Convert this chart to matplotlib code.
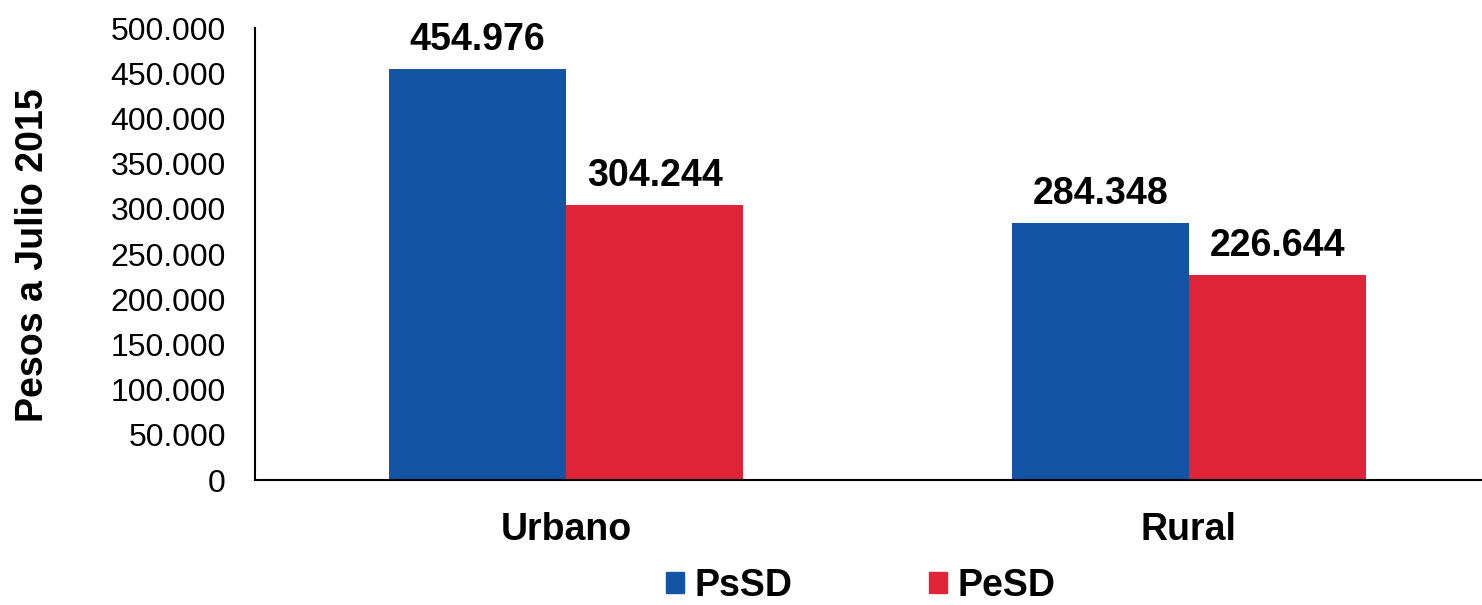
import numpy as np
import matplotlib.pyplot as plt
from matplotlib.patches import Patch
from matplotlib.ticker import FuncFormatter

# datos
zonas = ["Urbano", "Rural"]
psd = [454976, 284348]
pesd = [304244, 226644]
series = ["PsSD", "PeSD"]
colores = ["#1454A4", "#E02437"]

plt.rcParams['font.family'] = ['Liberation Sans', 'DejaVu Sans']

fig = plt.figure(figsize=(14.82, 6.05), dpi=100)
ax = fig.add_axes([255 / 1482, 1 - 480 / 605, 1245 / 1482, 452 / 605])

x = np.arange(len(zonas))
w = 0.2846
b1 = ax.bar(x - w / 2, psd, w, color=colores[0])
b2 = ax.bar(x + w / 2, pesd, w, color=colores[1])


def miles(v, pos=None):
    return f"{int(round(v)):,}".replace(",", ".")


for barras, vals in [(b1, psd), (b2, pesd)]:
    for r, v in zip(barras, vals):
        ax.annotate(miles(v), (r.get_x() + r.get_width() / 2, v),
                    xytext=(0, 8), textcoords="offset points",
                    ha="center", va="bottom", fontsize=27, fontweight="bold")

ax.set_xlim(-0.5, 1.5)
ax.set_ylim(0, 500000)
ax.set_yticks(np.arange(0, 500001, 50000))
ax.yaxis.set_major_formatter(FuncFormatter(miles))
ax.set_xticks(x)
ax.set_xticklabels(zonas, fontsize=27, fontweight="bold")
ax.tick_params(axis="y", length=0, pad=21, labelsize=23)
ax.tick_params(axis="x", length=0, pad=23)

ax.spines["top"].set_visible(False)
ax.spines["right"].set_visible(False)
ax.spines["left"].set_linewidth(1.5)
ax.spines["bottom"].set_linewidth(1.5)

fig.text(33 / 1482, 1 - 255 / 605, "Pesos a Julio 2015", rotation=90,
         ha="center", va="center", fontsize=27, fontweight="bold")

handles = [Patch(color=c) for c in colores]
fig.legend(handles, series, loc="center", bbox_to_anchor=(861 / 1482, 1 - 586 / 605),
           ncol=2, frameon=False, prop={"size": 27, "weight": "bold"},
           handlelength=0.48, handleheight=0.5, handletextpad=0.27,
           columnspacing=3.65, borderpad=0.1)

fig.savefig("out.png", dpi=100)
